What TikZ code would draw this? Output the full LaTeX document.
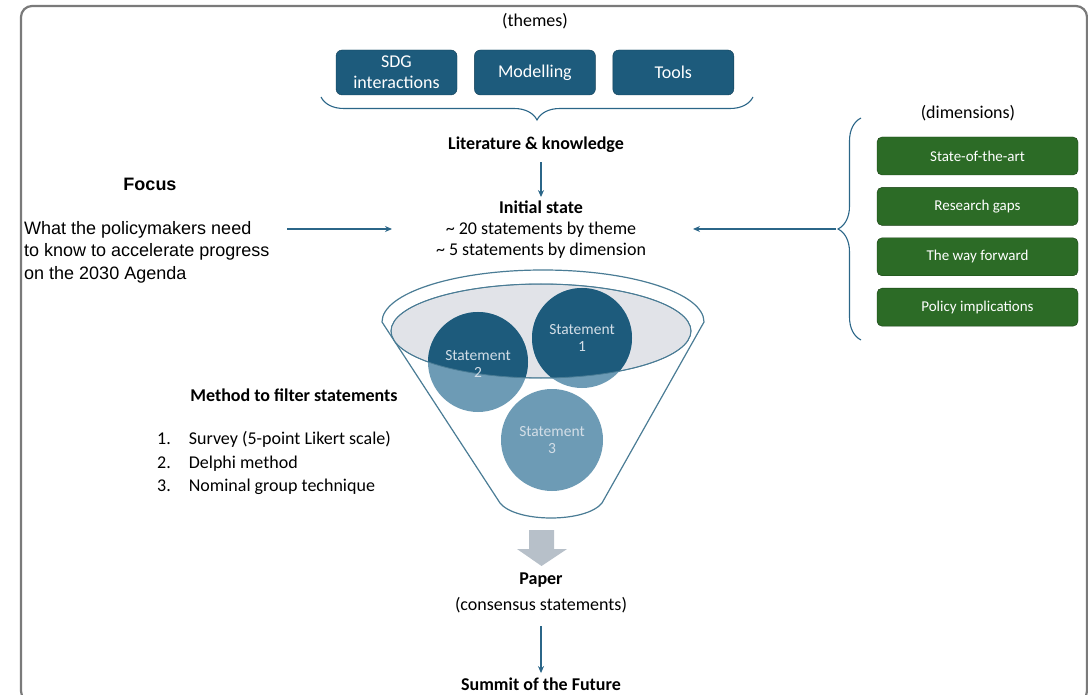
\documentclass[tikz,border=0pt]{standalone}
\usepackage{fontspec}
\setmainfont{Carlito}
\newfontfamily\arialfont{Liberation Sans}
\usetikzlibrary{arrows.meta,decorations.pathreplacing,positioning}

\definecolor{temablue}{HTML}{1D5B7C}
\definecolor{temaedge}{HTML}{123F57}
\definecolor{dimgreen}{HTML}{2C6B26}
\definecolor{dimedge}{HTML}{183F14}
\definecolor{linkblue}{HTML}{2B6688}
\definecolor{funnelblue}{HTML}{4A7C95}
\definecolor{stmtlight}{HTML}{6D9BB5}
\definecolor{stmttext}{HTML}{D3DEE7}
\definecolor{rimgray}{HTML}{E1E3E8}
\definecolor{framegray}{HTML}{7A7A7A}
\definecolor{downgray}{HTML}{B7C0C9}

\begin{document}
\begin{tikzpicture}[
        x=1pt, y=-1pt, % координаты в пикселях, ось y вниз
        tema/.style={draw=temaedge, fill=temablue, rounded corners=6pt, minimum width=121pt, minimum height=45pt,
            text=white, align=center, font=\fontsize{18}{21}\selectfont}, % темы
        dim/.style={draw=dimedge, fill=dimgreen, rounded corners=5pt, minimum width=201pt, minimum height=38pt,
            text=white, font=\fontsize{15}{17}\selectfont}, % измерения
        txt/.style={align=center, font=\fontsize{18}{21.5}\selectfont},
        head/.style={align=center, font=\fontsize{18}{21.5}\selectfont\bfseries},
        link/.style={draw=linkblue, line width=1.2pt, -{Stealth[length=7pt,width=6pt]}},
        skobka/.style={draw=linkblue, line width=1.1pt, decorate, decoration={brace, amplitude=23pt}},
        stmt/.style={circle, minimum size=100pt, inner sep=0pt},
        stmtlabel/.style={align=center, text=stmttext, font=\fontsize{15.5}{17.5}\selectfont},
    ]

    \clip (0,0) rectangle (1088,695);
    \draw[framegray, line width=2.2pt, rounded corners=11pt] (21,6) rectangle (1087,702);

    % темы
    \node[txt] (themes) at (535,21) {(themes)};
    \node[tema] (sdg) at (396.5,72.5) {SDG\\interactions};
    \node[tema, right=17pt of sdg] (model) {Modelling};
    \node[tema, right=17pt of model] (tools) {Tools};
    \coordinate (tbR) at (753,97);
    \coordinate (tbL) at (321,97);
    \draw[skobka] (tbR) -- (tbL);
    \node[head] (lit) at (536,145) {Literature \& knowledge};

    \node[head] (init) at (541,207) {Initial state};
    \node[txt] (state) at (541,240) {\textasciitilde{} 20 statements by theme\\\textasciitilde{} 5 statements by dimension};
    \draw[link, shorten <=6pt] (lit.south -| init.north) -- (init.north);

    % фокус
    \node[font=\arialfont\bfseries\fontsize{18}{22}\selectfont] (focus) at (150,184) {Focus};
    \node[align=left, anchor=west, inner sep=0pt, font=\arialfont\fontsize{18}{22.5}\selectfont] (need) at (24,252)
        {What the policymakers need\\to know to accelerate progress\\on the 2030 Agenda};
    \coordinate (needR) at (287,229);
    \coordinate (inL) at (392,229);
    \draw[link] (needR) -- (inL);

    % измерения
    \node[txt] (dims) at (968,113) {(dimensions)};
    \node[dim] (sota) at (977.5,156) {State-of-the-art};
    \node[dim, below=12pt of sota] (gaps) {Research gaps};
    \node[dim, below=12pt of gaps] (way) {The way forward};
    \node[dim, below=12pt of way] (policy) {Policy implications};
    \coordinate (rbB) at (861,340);
    \coordinate (rbT) at (861,118);
    \draw[skobka] (rbB) -- (rbT);
    \coordinate (rbtip) at (836,229);
    \coordinate (inR) at (693,229);
    \draw[link] (rbtip) -- (inR);

    % воронка
    \draw[funnelblue, fill=white, line width=1.2pt] (382,322) arc[start angle=180, end angle=360, x radius=161, y radius=52]
        -- (602,503) .. controls (586,523) and (516,523) .. (500,503) -- cycle;
    \filldraw[draw=funnelblue, fill=rimgray, line width=1pt] (541,331) ellipse[x radius=150, y radius=47];
    \node[stmt, fill=stmtlight] (s1) at (582,338) {};
    \node[stmt, fill=stmtlight] (s2) at (478,362) {};
    \begin{scope}
        \clip (541,331) ellipse[x radius=150, y radius=47];
        \fill[temablue] (s1.center) circle[radius=50];
        \fill[temablue] (s2.center) circle[radius=50];
    \end{scope}
    \draw[funnelblue, line width=0.8pt] (541,331) ellipse[x radius=150, y radius=47];
    \node[stmt, fill=stmtlight, minimum size=102pt] (s3) at (552,440) {};
    \node[stmtlabel] (t1) at (s1) {Statement\\1};
    \node[stmtlabel] (t2) at ([yshift=-2pt]s2.center) {Statement\\2};
    \node[stmtlabel] (t3) at (s3) {Statement\\3};

    % методы
    \node[head] (meth) at (294,395) {Method to filter statements};
    \node[anchor=north west, inner sep=0pt, font=\fontsize{18}{23.5}\selectfont] (list) at (157,428)
        {\begin{tabular}{@{}l@{\hspace{18pt}}l@{}}
            1. & Survey (5-point Likert scale)\\
            2. & Delphi method\\
            3. & Nominal group technique
        \end{tabular}};

    % результат
    \fill[downgray] (529,530) -- (554,530) -- (554,549) -- (567,549) -- (541.5,566) -- (517,549) -- (529,549) -- cycle;
    \node[head] (paper) at (541,580) {Paper};
    \node[txt] (cons) at (541,605) {(consensus statements)};
    \node[head] (summit) at (541,684) {Summit of the Future};
    \draw[link, shorten <=10pt, shorten >=1pt] (cons) -- (summit);
\end{tikzpicture}
\end{document}
